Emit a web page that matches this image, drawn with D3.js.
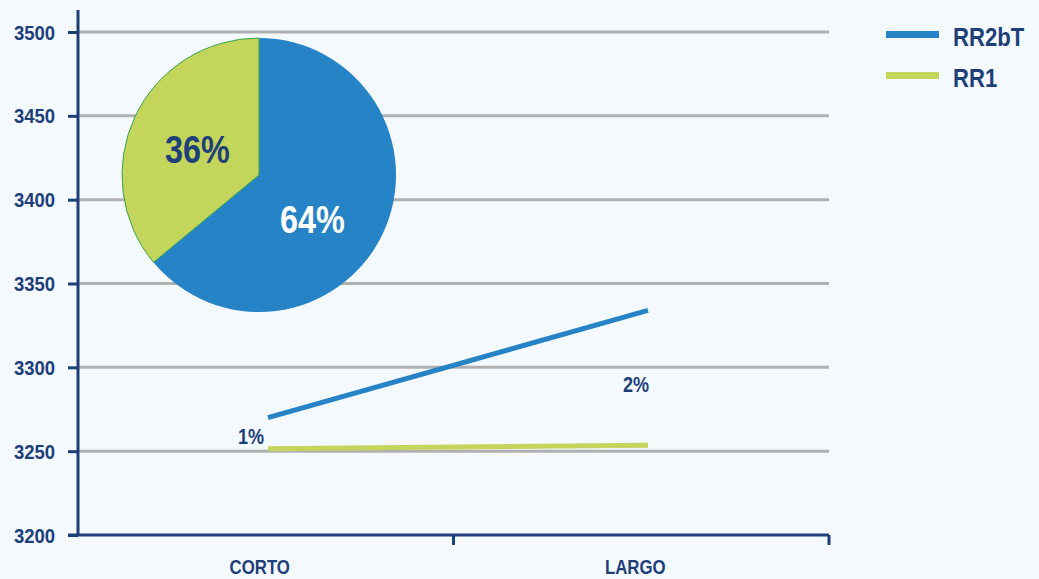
<!DOCTYPE html>
<html><head><meta charset="utf-8">
<script src="https://cdn.jsdelivr.net/npm/d3@7"></script>
<style>
html,body{margin:0;padding:0;background:#f4f9fd;}
svg{display:block;}
text{font-family:"Liberation Sans","Arial",sans-serif;font-weight:bold;}
</style></head>
<body>
<svg id="c" width="1039" height="579"></svg>
<script>
const categories = ["CORTO", "LARGO"];
const seriesNames = ["RR2bT", "RR1"];
const rr2bt = [3270, 3334];
const rr1 = [3251.5, 3253.5];
const growthLabels = ["1%", "2%"];
const yTicks = [3200, 3250, 3300, 3350, 3400, 3450, 3500];
const pieLabels = ["64%", "36%"];
const pieValues = [64, 36];

const W = 1039, H = 579;
const navy = "#1f3f7a", blue = "#2683c6", green = "#c3d55b", grid = "#b0b0b0";
const svg = d3.select("#c");
svg.append("rect").attr("width", W).attr("height", H).attr("fill", "#f4f9fd");

function condense(sel, f) {
  sel.each(function () {
    const L = this.getComputedTextLength();
    d3.select(this).attr("textLength", L * f).attr("lengthAdjust", "spacingAndGlyphs");
  });
}

const mLeft = 78, mRight = 829, mTop = 32, mBottom = 535;
const y = d3.scaleLinear().domain([3200, 3500]).range([mBottom, mTop]);
const x = d3.scaleBand().domain(categories).range([mLeft, mRight]);
const xl = d3.scalePoint().domain(categories).range([mLeft, mRight + 9]).padding(0.5);

// gridlines
svg.append("g").selectAll("line").data(yTicks.filter(t => t > 3200)).join("line")
  .attr("x1", mLeft).attr("x2", mRight).attr("y1", d => y(d)).attr("y2", d => y(d))
  .attr("stroke", grid).attr("stroke-width", 3);

// y axis
const yAxis = svg.append("g").attr("transform", `translate(${mLeft},0)`)
  .call(d3.axisLeft(y).tickValues(yTicks).tickSize(10).tickPadding(13).tickFormat(d3.format("d")));
yAxis.select(".domain").attr("d", `M0,10V${mBottom}`).attr("stroke", navy).attr("stroke-width", 3);
yAxis.selectAll(".tick line").attr("stroke", navy).attr("stroke-width", 3);
yAxis.selectAll(".tick text").attr("fill", navy).attr("font-size", 21).attr("font-family", null)
  .attr("dy", null).attr("y", 7).call(condense, 0.88);

// x axis
const xAxis = svg.append("g").attr("transform", `translate(0,${mBottom})`)
  .call(d3.axisBottom(x).tickSize(0));
xAxis.select(".domain").attr("d", `M${mLeft - 10},0H${mRight}`).attr("stroke", navy).attr("stroke-width", 3);
xAxis.selectAll(".tick text").attr("fill", navy).attr("font-size", 21).attr("font-family", null)
  .attr("dy", null).attr("y", 39).attr("dx", -6).call(condense, 0.8);
svg.append("g").selectAll("line").data([x("LARGO"), mRight]).join("line")
  .attr("x1", d => d).attr("x2", d => d).attr("y1", mBottom).attr("y2", mBottom + 10)
  .attr("stroke", navy).attr("stroke-width", 3);

// lines
const line = d3.line().x((d, i) => xl(categories[i])).y(d => y(d));
svg.append("path").datum(rr1).attr("d", line).attr("fill", "none").attr("stroke", green).attr("stroke-width", 5);
svg.append("path").datum(rr2bt).attr("d", line).attr("fill", "none").attr("stroke", blue).attr("stroke-width", 5);

// growth labels
svg.append("g").selectAll("text").data(growthLabels).join("text")
  .attr("x", (d, i) => xl(categories[i]) + (i === 0 ? -17 : -12))
  .attr("y", (d, i) => i === 0 ? y(rr1[0]) - 5 : y(rr2bt[1]) + 82)
  .attr("text-anchor", "middle").attr("fill", navy).attr("font-size", 22).text(d => d)
  .call(condense, 0.82);

// pie
const pcx = 259, pcy = 175, r = 137;
const pie = d3.pie().sort(null)(pieValues);
const arc = d3.arc().innerRadius(0).outerRadius(r);
const pg = svg.append("g").attr("transform", `translate(${pcx},${pcy})`);
pg.selectAll("path").data(pie).join("path").attr("d", arc)
  .attr("fill", (d, i) => i === 0 ? blue : green)
  .attr("stroke", (d, i) => i === 0 ? "none" : "#3aa34a").attr("stroke-width", 1);
const lblPos = [[53.5, 58], [-61.5, -12]];
pg.selectAll("text").data(pieLabels).join("text")
  .attr("x", (d, i) => lblPos[i][0]).attr("y", (d, i) => lblPos[i][1])
  .attr("text-anchor", "middle").attr("font-size", 39)
  .attr("fill", (d, i) => i === 0 ? "#ffffff" : navy).text(d => d)
  .call(condense, 0.83);

// legend
const lg = svg.append("g");
seriesNames.forEach((n, i) => {
  const ly = 34.5 + i * 41;
  lg.append("line").attr("x1", 886).attr("x2", 939).attr("y1", ly).attr("y2", ly)
    .attr("stroke", i === 0 ? blue : green).attr("stroke-width", 7);
  lg.append("text").attr("x", 953).attr("y", ly + 11).attr("fill", navy).attr("font-size", 26).text(n)
    .call(condense, 0.85);
});
</script>
</body></html>
